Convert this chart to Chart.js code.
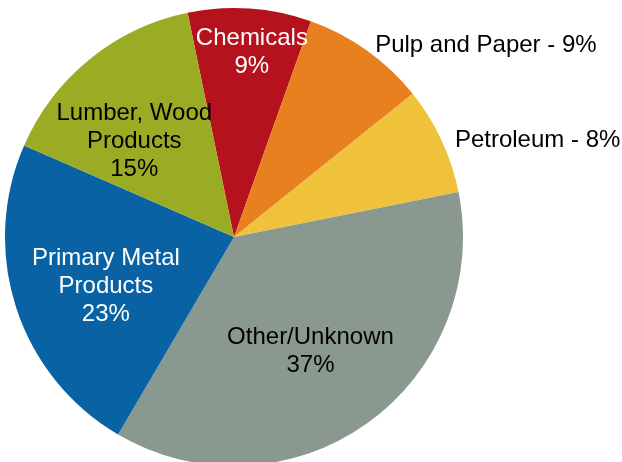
<!DOCTYPE html>
<html>
<head>
<meta charset="utf-8">
<script src="https://cdn.jsdelivr.net/npm/chart.js@4.4.0/dist/chart.umd.min.js"></script>
<style>
  html, body { margin: 0; padding: 0; background: #fff; overflow: hidden; }
  #wrap { position: absolute; left: 0; top: 0; width: 622px; height: 474px; }
</style>
</head>
<body>
<div id="wrap"><canvas id="my-chart"></canvas></div>
<script>
'use strict';

//***********chart data***********
let categories = ['Chemicals', 'Pulp and Paper', 'Petroleum', 'Other/Unknown', 'Primary Metal Products', 'Lumber, Wood Products'];
let shares = [8.7, 8.8, 7.6, 36.6, 23.1, 15.2];
let percentLabels = ['9%', '9%', '8%', '37%', '23%', '15%'];
let labelLines = [
  ['Chemicals', '9%'],
  ['Pulp and Paper - 9%'],
  ['Petroleum - 8%'],
  ['Other/Unknown', '37%'],
  ['Primary Metal', 'Products', '23%'],
  ['Lumber, Wood', 'Products', '15%']
];
let sliceColors = ['#B5121D', '#E8801F', '#F0C13B', '#8A998F', '#0862A3', '#9AAC24'];
let textColors = ['#ffffff', '#000000', '#000000', '#000000', '#ffffff', '#000000'];

// where each label sits: inside (fraction of radius) or outside (left aligned)
let labelPlace = [
  { inside: true, r: 0.82, turn: 1.5, dx: 0, dy: 2 },
  { inside: false, r: 1.055, turn: 0, dx: 1, dy: 5 },
  { inside: false, r: 1.055, turn: 0, dx: 2, dy: 6 },
  { inside: true, r: 0.59, turn: 1.5, dx: 1, dy: 2 },
  { inside: true, r: 0.6, turn: -2, dx: 1, dy: 2 },
  { inside: true, r: 0.61, turn: -6.5, dx: 0, dy: 2 }
];

// draws the slice labels on top of the pie
let sliceLabels = {
  id: 'sliceLabels',
  afterDatasetsDraw(chart) {
    let ctx = chart.ctx;
    let arcs = chart.getDatasetMeta(0).data;
    ctx.save();
    ctx.font = '24px "Liberation Sans", Arial, sans-serif';
    ctx.textBaseline = 'middle';
    for (let i = 0; i < arcs.length; i++) {
      let a = arcs[i];
      let place = labelPlace[i];
      let mid = (a.startAngle + a.endAngle) / 2 + place.turn * Math.PI / 180;
      let x = a.x + Math.cos(mid) * a.outerRadius * place.r + place.dx;
      let y = a.y + Math.sin(mid) * a.outerRadius * place.r + place.dy;
      let lines = labelLines[i];
      let lineH = 28;
      ctx.fillStyle = textColors[i];
      ctx.textAlign = place.inside ? 'center' : 'left';
      let top = y - (lines.length - 1) * lineH / 2;
      for (let j = 0; j < lines.length; j++) {
        ctx.fillText(lines[j], x, top + j * lineH);
      }
    }
    ctx.restore();
  }
};

let myChartObj = {
  type: 'pie',
  data: {
    labels: categories,
    datasets: [{
      data: shares,
      backgroundColor: sliceColors,
      borderWidth: 0
    }]
  },
  options: {
    responsive: true,
    maintainAspectRatio: false,
    animation: false,
    rotation: -11.7,
    layout: {
      padding: { left: 5, right: 159, top: 8, bottom: 8 }
    },
    plugins: {
      legend: { display: false },
      tooltip: { enabled: false }
    }
  },
  plugins: [sliceLabels]
};

new Chart(document.getElementById('my-chart'), myChartObj);
</script>
</body>
</html>
